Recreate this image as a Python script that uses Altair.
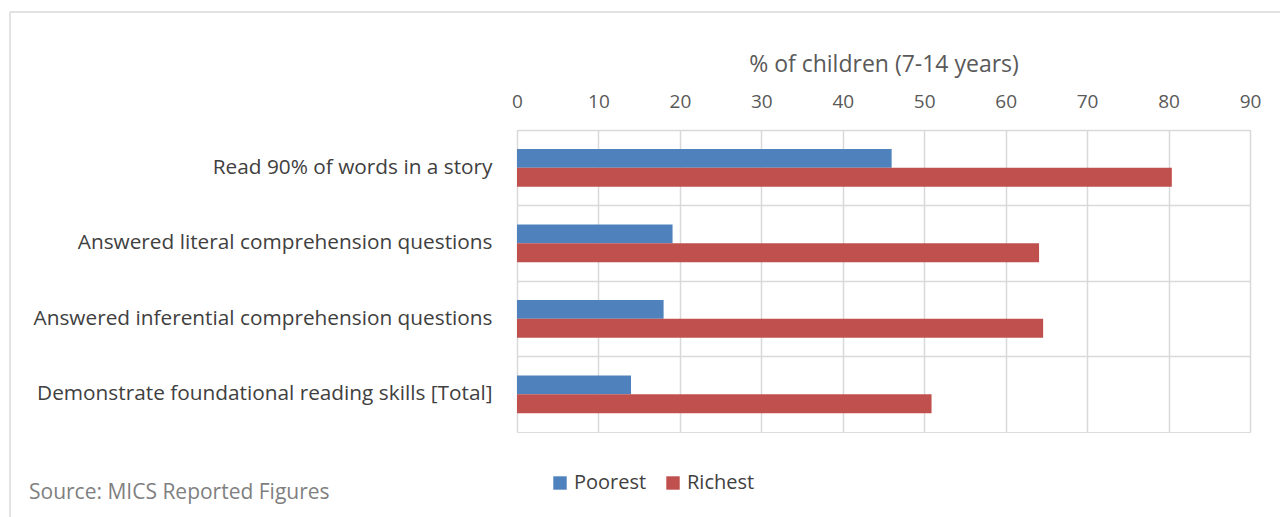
import altair as alt
import pandas as pd

categories = [
    "Read 90% of words in a story",
    "Answered literal comprehension questions",
    "Answered inferential comprehension questions",
    "Demonstrate foundational reading skills [Total]",
]
poorest = [46.0, 19.1, 18.0, 14.0]
richest = [80.4, 64.1, 64.6, 50.9]
groups = ["Poorest", "Richest"]
colors = ["#4f81bd", "#c0504d"]
source_text = ["Source: MICS Reported Figures"]

rows = []
for c, p, r in zip(categories, poorest, richest):
    rows.append({"cat": c, "group": "Poorest", "value": p})
    rows.append({"cat": c, "group": "Richest", "value": r})
df = pd.DataFrame(rows)
one = pd.DataFrame({"t": source_text})

FONT = "Open Sans"
TXT = "#595959"
GRID = "#d9d9d9"

bars = alt.Chart(df).mark_bar().encode(
    y=alt.Y("cat:N", sort=categories,
            scale=alt.Scale(paddingInner=0, paddingOuter=0),
            axis=alt.Axis(title=None, ticks=False, domain=False, grid=True,
                          bandPosition=0, gridColor=GRID, gridWidth=1.5,
                          labelPadding=25, labelFontSize=20.8, labelColor="#404040",
                          labelFont=FONT, labelLimit=600)),
    yOffset=alt.YOffset("group:N", sort=groups,
                        scale=alt.Scale(paddingOuter=1, paddingInner=0)),
    x=alt.X("value:Q",
            scale=alt.Scale(domain=[0, 90], nice=False),
            axis=alt.Axis(orient="top", values=list(range(0, 100, 10)),
                          title="% of children (7-14 years)", titleFont=FONT,
                          titleFontSize=23, titleFontWeight="normal", titleColor=TXT,
                          titlePadding=16, ticks=False, domain=False,
                          grid=True, gridColor=GRID, gridWidth=1.5,
                          labelFont=FONT, labelFontSize=19, labelColor=TXT,
                          labelPadding=19, labelFlush=False)),
    color=alt.Color("group:N", sort=groups,
                    scale=alt.Scale(domain=groups, range=colors),
                    legend=alt.Legend(title=None, orient="none", direction="horizontal",
                                      legendX=33, legendY=343, symbolType="square",
                                      symbolSize=180, symbolStrokeWidth=0,
                                      labelFont=FONT, labelFontSize=20,
                                      labelColor="#404040", columnPadding=16,
                                      labelOffset=4)),
)

frame_top = alt.Chart(one).mark_rule(color=GRID, strokeWidth=1.5).encode(
    x=alt.value(-507), x2=alt.value(770), y=alt.value(-118))
frame_left = alt.Chart(one).mark_rule(color=GRID, strokeWidth=1.5).encode(
    x=alt.value(-507), y=alt.value(-118), y2=alt.value(400))

source = alt.Chart(one).mark_text(
    align="left", baseline="middle",
    font=FONT, fontSize=21, color="#7f7f7f").encode(
    text="t:N", x=alt.value(-488), y=alt.value(363))

chart = alt.layer(bars, frame_top, frame_left, source).properties(
    width=733, height=302,
    autosize=alt.AutoSizeParams(type="none"),
    padding={"left": 517, "top": 130, "right": 30, "bottom": 85},
).configure_view(stroke=GRID, strokeWidth=1.5).configure(background="white")

chart.save("out.html", embed_options={"renderer": "svg", "actions": False})
